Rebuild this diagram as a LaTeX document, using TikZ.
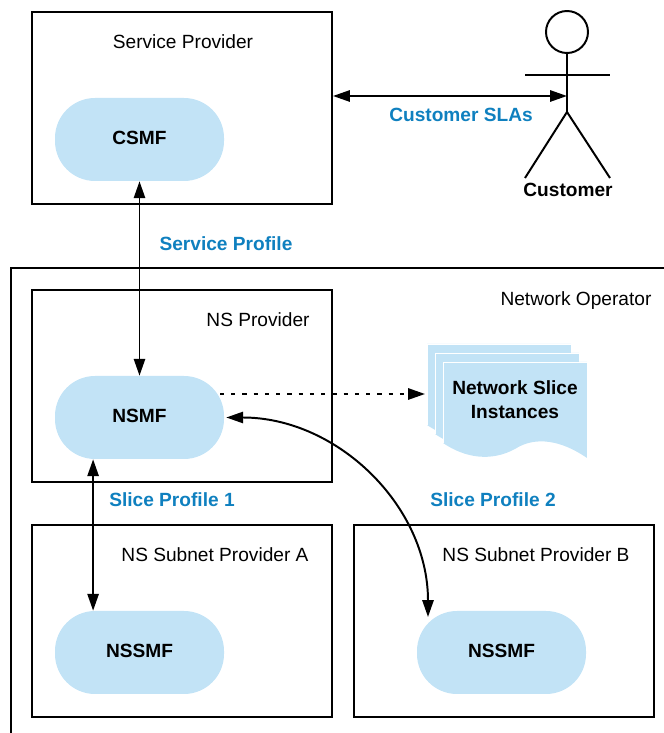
\documentclass[tikz,border=0pt]{standalone}
\usepackage{fontspec}
\setmainfont{Liberation Sans}
\usepackage{xcolor}
\usetikzlibrary{arrows.meta}
\definecolor{fnblue}{HTML}{C2E3F6}
\definecolor{lblblue}{HTML}{0F80BF}
\tikzset{
    >={Triangle[length=12pt,width=8pt]},
    provider/.style={draw, line width=1.4pt, minimum width=7.5cm, minimum height=4.8cm},
    func/.style={fill=fnblue, rounded corners=1cm, minimum width=4.225cm, minimum height=2.075cm, text depth=0.1cm, font=\fontsize{13.6}{17}\selectfont\bfseries},
    caption/.style={font=\fontsize{13.6}{17}\selectfont},
    profile/.style={text=lblblue, font=\fontsize{13.6}{17}\selectfont\bfseries},
    conn/.style={line width=1.4pt}
}
\begin{document}
\begin{tikzpicture}
            \useasboundingbox (0, 0) rectangle (16.6, 18.325);

            % network operator frame, open at the page edge
            \draw[line width=1.4pt] (0.275, 0) -- (0.275, 11.625) -- (16.6, 11.625);

            \node[provider] (sp) at (4.55, 15.625) {};
            \node[provider] (nsp) at (4.55, 8.675) {};
            \node[provider] (spa) at (4.55, 2.8) {};
            \node[provider] (spb) at (12.6, 2.8) {};

            \node[caption] (sptext) at (4.575, 17.275) {Service Provider};
            \node[caption] (nsptext) at (6.45, 10.325) {NS Provider};
            \node[caption] (optext) at (14.4, 10.8) {Network Operator};
            \node[caption] (spatext) at (5.375, 4.45) {NS Subnet Provider A};
            \node[caption] (spbtext) at (13.4, 4.45) {NS Subnet Provider B};

            \node[func] (csmf) at (3.4875, 14.8375) {CSMF};
            \node[func] (nsmf) at (3.4875, 7.8875) {NSMF};
            \node[func] (nssmfa) at (3.4875, 2.0125) {NSSMF};
            \node[func] (nssmfb) at (12.5375, 2.0125) {NSSMF};

            % slice instances stack
            \foreach \sx/\sy in {10.675/9.725, 10.875/9.5, 11.075/9.275} {
                \fill[fnblue, shift={(\sx, \sy)}] (0, 0) -- (3.6, 0) -- (3.6, -2.4)
                    .. controls (2.95, -1.95) and (2.3, -1.85) .. (1.8, -2.175)
                    .. controls (1.2, -2.5) and (0.55, -2.4) .. (0, -2.025) -- cycle;
                \draw[white, line width=0.7pt, shift={(\sx, \sy)}] (3.6, -2.4) -- (3.6, 0) -- (0, 0) -- (0, -2.025);
            }
            \node[profile, text=black, align=center] (nsi) at (12.875, 8.325) {Network Slice\\Instances};

            % customer
            \node[draw, circle, line width=1.4pt, minimum size=1.05cm] (head) at (14.175, 17.525) {};
            \coordinate (hip) at (14.175, 15.525);
            \coordinate (arml) at (13.125, 16.45);
            \coordinate (armr) at (15.25, 16.45);
            \coordinate (legl) at (13.125, 13.875);
            \coordinate (legr) at (15.25, 13.875);
            \coordinate (chest) at (14.175, 15.925);
            \draw[conn] (head) -- (hip);
            \draw[conn] (arml) -- (armr);
            \draw[conn] (legl) -- (hip) -- (legr);
            \node[font=\fontsize{13.6}{17}\selectfont\bfseries] (cust) at (14.2, 13.575) {Customer};

            \node[profile] (sla) at (11.525, 15.45) {Customer SLAs};
            \node[profile] (sprof) at (5.65, 12.225) {Service Profile};
            \node[profile] (slice1) at (4.3, 5.825) {Slice Profile 1};
            \node[profile] (slice2) at (12.325, 5.825) {Slice Profile 2};

            \coordinate (dotstart) at (5.5, 8.475);
            \coordinate (dotend) at (10.625, 8.475);
            \coordinate (curveend) at (10.7, 2.9);

            \draw[conn, <->] (sp.east |- chest) -- (chest);
            \draw[conn, <->] (csmf) -- (nsmf);
            \draw[conn, <->] ([xshift=-1.16cm]nsmf.south) -- ([xshift=-1.16cm]nssmfa.north);
            \draw[conn, ->, dash pattern=on 3pt off 5pt] (dotstart) -- (dotend);
            \draw[conn, <->] ([xshift=0.05cm]nsmf.east) to[out=0, in=90] (curveend);
        \end{tikzpicture}
\end{document}
